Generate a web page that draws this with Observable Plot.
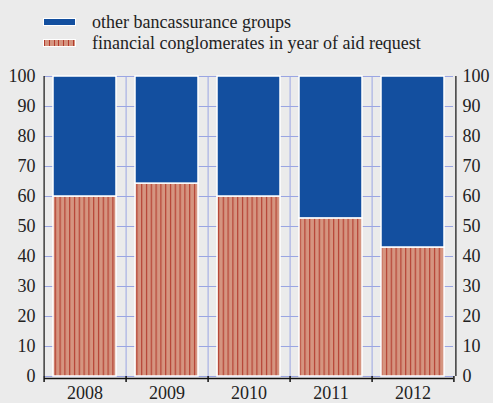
<!DOCTYPE html>
<html>
<head>
<meta charset="utf-8">
<script src="https://cdn.jsdelivr.net/npm/d3@7"></script>
<script src="https://cdn.jsdelivr.net/npm/@observablehq/plot@0.6"></script>
<style>
  html, body { margin: 0; padding: 0; background: #ebebeb; }
  #wrap { position: relative; width: 493px; height: 403px; background: #ebebeb; color: #222; }
  .leg { position: absolute; left: 0; height: 20px; font-family: 'Liberation Serif', serif; font-size: 18px; line-height: 20px; white-space: nowrap; }
  .sw { position: absolute; left: 43px; top: 6px; width: 31px; height: 6px; border: 1px solid #fff; }
  .lab { position: absolute; left: 92px; top: 0; font-family: 'Liberation Serif', serif; }
  #chart { position: absolute; left: 0; top: 60px; }
  #chart svg text { font-family: 'Liberation Serif', serif; }
</style>
</head>
<body>
<div id="wrap">
  <div class="leg" style="top:12px"><div class="sw" style="background:#134f9f"></div><div class="lab">other bancassurance groups</div></div>
  <div class="leg" style="top:33px"><div class="sw" style="background:repeating-linear-gradient(90deg,#b33a2c 0 1px,#d59580 1px 4.8px)"></div><div class="lab">financial conglomerates in year of aid request</div></div>
  <div id="chart"></div>
</div>
<script>
const years = ["2008", "2009", "2010", "2011", "2012"];
const finValues = [60, 64.3, 60, 52.7, 43];
const otherValues = [40, 35.7, 40, 47.3, 57];
const seriesNames = ["financial conglomerates in year of aid request", "other bancassurance groups"];
const yTicks = [0, 10, 20, 30, 40, 50, 60, 70, 80, 90, 100];

const W = 493, H = 343, mL = 44, mR = 40, mT = 16, mB = 27;
const step = (W - mL - mR) / years.length;

const data = [];
years.forEach((y, i) => {
  data.push({year: y, series: seriesNames[0], value: finValues[i]});
  data.push({year: y, series: seriesNames[1], value: otherValues[i]});
});

const plot = Plot.plot({
  width: W, height: H,
  marginLeft: mL, marginRight: mR, marginTop: mT, marginBottom: mB,
  style: {background: "#ebebeb", fontFamily: "'Liberation Serif', serif", fontSize: "18px", color: "#222"},
  x: {domain: years, paddingInner: 0.23, paddingOuter: 0.1, label: null},
  y: {domain: [0, 100], label: null},
  color: {domain: seriesNames, range: ["url(#hatch)", "#134f9f"]},
  marks: [
    Plot.ruleY(yTicks, {stroke: "#9aa5e3", strokeWidth: 1}),
    Plot.ruleX(years.slice(1), {x: d => d, y1: 0, y2: 100, dx: -step / 2, stroke: "#9aa5e3", strokeWidth: 1}),
    Plot.barY(data, {x: "year", y: "value", fill: "series", stroke: "#fff", strokeWidth: 1.5, order: seriesNames}),
    Plot.axisY(yTicks, {anchor: "left", tickSize: 0, tickPadding: 9, label: null, fontSize: 18}),
    Plot.axisY(yTicks, {anchor: "right", tickSize: 0, tickPadding: 9, label: null, fontSize: 18}),
    Plot.axisX({tickSize: 0, tickPadding: 10, label: null, fontSize: 18}),
    Plot.ruleX([0], {x: () => years[0], y1: 0, y2: 100, dx: -step / 2, stroke: "#111", strokeWidth: 1.2}),
    Plot.ruleX([0], {x: () => years[years.length - 1], y1: 0, y2: 100, dx: step / 2 + 2, stroke: "#111", strokeWidth: 1.2}),
    Plot.ruleY([0], {stroke: "#111", strokeWidth: 1.5, dy: 2}),
    Plot.ruleX(years, {x: d => d, y1: 0, y2: -2, dx: -step / 2, stroke: "#111", strokeWidth: 1.5}),
    Plot.ruleX([years[years.length - 1]], {x: d => d, y1: 0, y2: -2, dx: step / 2, stroke: "#111", strokeWidth: 1.5})
  ]
});

const ns = "http://www.w3.org/2000/svg";
const defs = document.createElementNS(ns, "defs");
const pat = document.createElementNS(ns, "pattern");
pat.setAttribute("id", "hatch");
pat.setAttribute("patternUnits", "userSpaceOnUse");
pat.setAttribute("width", "4.8");
pat.setAttribute("height", "10");
const bg = document.createElementNS(ns, "rect");
bg.setAttribute("width", "4.8"); bg.setAttribute("height", "10"); bg.setAttribute("fill", "#d59580");
const ln = document.createElementNS(ns, "rect");
ln.setAttribute("x", "2"); ln.setAttribute("width", "1.1"); ln.setAttribute("height", "10"); ln.setAttribute("fill", "#b33a2c");
pat.appendChild(bg); pat.appendChild(ln);
defs.appendChild(pat);
plot.insertBefore(defs, plot.firstChild);

document.getElementById("chart").appendChild(plot);
</script>
</body>
</html>
